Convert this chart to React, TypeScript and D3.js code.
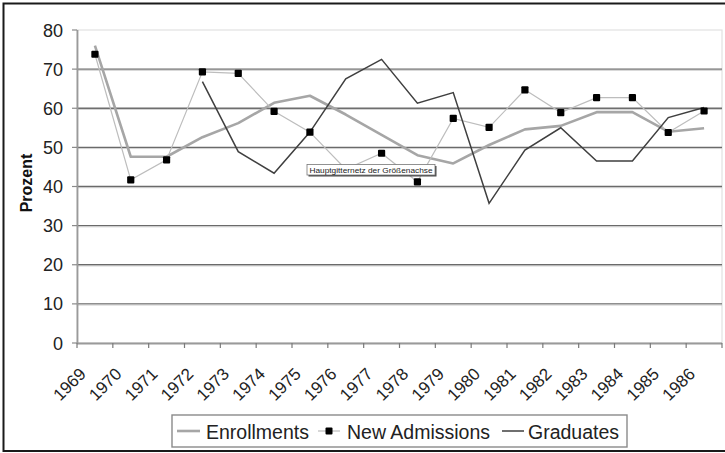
import React from "react";
import * as d3 from "d3";

const years = [
  "1969", "1970", "1971", "1972", "1973", "1974", "1975", "1976", "1977",
  "1978", "1979", "1980", "1981", "1982", "1983", "1984", "1985", "1986",
];
const enrollments = [
  76.0, 47.6, 47.6, 52.6, 56.2, 61.4, 63.2, 58.4, 53.2,
  48.0, 45.9, 50.6, 54.6, 55.5, 59.0, 59.0, 54.0, 54.9,
];
const newAdmissions = [
  73.8, 41.7, 46.8, 69.3, 68.9, 59.2, 53.9, 44.4, 48.5,
  41.2, 57.4, 55.1, 64.7, 58.9, 62.7, 62.7, 53.8, 59.3,
];
const graduates: (number | null)[] = [
  null, null, null, 66.8, 48.9, 43.4, 53.9, 67.5, 72.5,
  61.3, 64.0, 35.7, 49.3, 55.0, 46.5, 46.5, 57.6, 60.2,
];
const yTicks = [0, 10, 20, 30, 40, 50, 60, 70, 80];

const W = 725;
const H = 453;
const FONT = "'Liberation Sans', Arial, sans-serif";

export default function App() {
  const x = d3.scaleBand<string>().domain(years).range([77, 722]).padding(0);
  const y = d3.scaleLinear().domain([0, 80]).range([343, 30]);
  const cx = (yr: string) => (x(yr) as number) + x.bandwidth() / 2;

  const line = d3
    .line<number | null>()
    .defined((d) => d != null)
    .x((_, i) => cx(years[i]))
    .y((d) => y(d as number));

  const boundaries = [...years.map((yr) => x(yr) as number), 722];

  return (
    <svg
      width={W}
      height={H}
      style={{ position: "absolute", left: 0, top: 0, background: "#fff" }}
      fontFamily={FONT}
    >
      <rect x={0} y={0} width={W} height={H} fill="#fff" />
      {/* outer frame */}
      <rect x={3.5} y={3.5} width={730} height={447.5} fill="none" stroke="#1a1a1a" strokeWidth={2} />

      {/* plot area border */}
      <rect x={77} y={30} width={645} height={313} fill="none" stroke="#e2e2e2" strokeWidth={1.2} />

      {/* major gridlines */}
      {yTicks
        .filter((t) => t > 0 && t < 80)
        .map((t) => (
          <g key={t}>
            <line x1={77} x2={722} y1={y(t)} y2={y(t)} stroke="#6a6a6a" strokeWidth={1.3} />
            <line x1={77} x2={722} y1={y(t) + 1.2} y2={y(t) + 1.2} stroke="#c4c4c4" strokeWidth={0.8} />
          </g>
        ))}

      {/* y axis */}
      <line x1={77.5} x2={77.5} y1={30} y2={344} stroke="#9a9a9a" strokeWidth={1.8} />
      {yTicks.map((t) => (
        <g key={t}>
          <line x1={72} x2={77} y1={y(t)} y2={y(t)} stroke="#8a8a8a" strokeWidth={1.2} />
          <text x={63} y={y(t) + 6.5} textAnchor="end" fontSize={18} fill="#222">
            {t}
          </text>
        </g>
      ))}
      <text
        transform={`translate(31.5,183) rotate(-90)`}
        textAnchor="middle"
        fontSize={16}
        fontWeight="bold"
        fill="#111"
      >
        Prozent
      </text>

      {/* x axis */}
      <line x1={77} x2={722} y1={343.5} y2={343.5} stroke="#9a9a9a" strokeWidth={1.8} />
      {boundaries.map((b, i) => (
        <line key={i} x1={b} x2={b} y1={343} y2={348} stroke="#7a7a7a" strokeWidth={1.2} />
      ))}
      {years.map((yr) => (
        <text
          key={yr}
          transform={`translate(${cx(yr) - 8},375) rotate(-45)`}
          textAnchor="end"
          fontSize={17}
          fill="#222"
        >
          {yr}
        </text>
      ))}

      {/* series */}
      <path d={line(enrollments) ?? ""} fill="none" stroke="#a6a6a6" strokeWidth={2.6} strokeLinejoin="round" />
      <path d={line(newAdmissions) ?? ""} fill="none" stroke="#bdbdbd" strokeWidth={1.2} />
      <path d={line(graduates) ?? ""} fill="none" stroke="#3f3f3f" strokeWidth={1.5} />
      {newAdmissions.map((v, i) => (
        <rect
          key={i}
          x={cx(years[i]) - 3.6}
          y={y(v) - 3.6}
          width={7.2}
          height={7.2}
          rx={1}
          fill="#000"
        />
      ))}

      {/* hover label */}
      <g>
        <rect x={308.5} y={166} width={128} height={10.5} fill="#4a4a4a" />
        <rect x={307} y={164.5} width={128} height={10.5} fill="#fff" stroke="#777" strokeWidth={0.8} />
        <text x={309.5} y={172.7} fontSize={8} fill="#222" textLength={123} lengthAdjust="spacingAndGlyphs">
          Hauptgitternetz der Größenachse
        </text>
      </g>

      {/* legend */}
      <g>
        <rect x={172} y={415} width={455} height={32} fill="#fff" stroke="#8a8a8a" strokeWidth={1.4} />
        <line x1={177} x2={200} y1={431} y2={431} stroke="#a6a6a6" strokeWidth={2.6} />
        <text x={206} y={439} fontSize={19.5} fill="#222">Enrollments</text>
        <line x1={318} x2={340} y1={431} y2={431} stroke="#bdbdbd" strokeWidth={1.2} />
        <rect x={325.5} y={427.5} width={7} height={7} rx={1} fill="#000" />
        <text x={347} y={439} fontSize={19.5} fill="#222">New Admissions</text>
        <line x1={502} x2={524} y1={431} y2={431} stroke="#3f3f3f" strokeWidth={1.5} />
        <text x={528} y={439} fontSize={19.5} fill="#222">Graduates</text>
      </g>
    </svg>
  );
}
